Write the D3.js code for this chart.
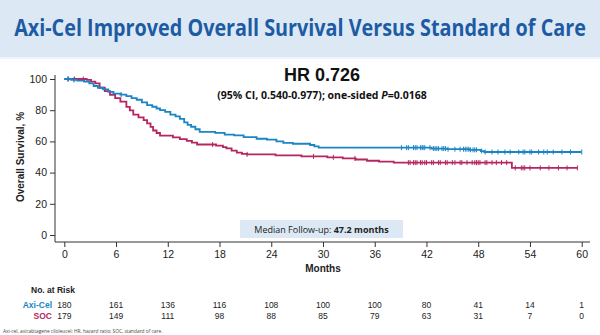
<!DOCTYPE html>
<html>
<head>
<meta charset="utf-8">
<script src="https://cdn.jsdelivr.net/npm/d3@7"></script>
<style>
  body { margin: 0; background: #fff; }
  svg { display: block; }
</style>
</head>
<body>
<div id="chart"></div>
<script>
// KM steps: [month, survival %]
const axiCelSteps = [
  [0, 100], [0.8, 99.4], [1.5, 98.9], [2.3, 98.3], [2.9, 97.2], [3.4, 95.5], [3.9, 94.4],
  [4.5, 93.3], [5.1, 91.7], [5.7, 90.6], [6.5, 90.0], [7.2, 89.0], [7.8, 87.8], [8.4, 86.7],
  [9.0, 85.0], [9.6, 83.3], [10.2, 82.2], [10.7, 81.1], [11.1, 80.0], [11.7, 78.9], [12.3, 77.2],
  [12.9, 76.1], [13.4, 74.4], [13.9, 72.2], [14.3, 70.6], [14.7, 69.4], [15.2, 67.8], [15.7, 66.1],
  [17.5, 65.5], [18.6, 64.4], [19.7, 63.9], [20.8, 62.8], [22.3, 61.7], [23.5, 61.1], [24.6, 60.0],
  [25.4, 59.0], [26.5, 58.5], [28.5, 57.7], [29.0, 56.8], [29.5, 56.0], [42.6, 55.4], [44.4, 55.0],
  [47.0, 54.6], [48.3, 53.8], [48.7, 53.2]
];
const axiCelEnd = 60;
const axiCelCensor = [0.4, 1.1, 6.6, 39.1, 39.7, 39.9, 40.5, 40.7, 40.9, 41.3, 41.5, 41.6, 41.8,
  42.4, 42.8, 43.0, 43.2, 43.4, 43.8, 44.0, 44.2, 44.5, 45.3, 45.9, 46.3, 46.5, 46.7, 46.9, 47.1,
  47.4, 47.6, 47.8, 48.4, 48.8, 49.6, 50.3, 51.1, 51.7, 52.7, 53.2, 53.4, 54.0, 54.2, 55.0, 55.6,
  56.0, 56.7, 57.7, 58.7, 60.0];

const socSteps = [
  [0, 100], [2.6, 99.4], [3.1, 98.3], [3.6, 97.2], [4.1, 94.4], [4.7, 92.2], [5.3, 89.9],
  [5.9, 87.7], [6.5, 85.5], [7.2, 82.1], [7.6, 79.9], [8.0, 77.1], [8.6, 75.4], [9.2, 73.7],
  [9.6, 71.5], [10.0, 69.3], [10.3, 67.0], [10.7, 65.4], [11.1, 63.7], [12.6, 62.6], [13.4, 61.5],
  [14.2, 60.3], [14.8, 59.2], [15.4, 58.0], [17.6, 57.3], [18.4, 56.3], [18.8, 55.5], [19.4, 54.1],
  [20.0, 52.8], [20.6, 52.0], [21.2, 51.7], [24.5, 51.0], [27.5, 50.4], [30.5, 49.8], [32.3, 49.1],
  [33.8, 48.4], [35.1, 47.6], [36.5, 47.0], [38.2, 46.4], [51.9, 43.0]
];
const socEnd = 59.5;
const socCensor = [0.5, 1.2, 2.2, 17.2, 21.2, 28.9, 31.2, 33.7, 39.9, 40.1, 40.5, 40.7, 40.9,
  41.3, 41.5, 41.8, 42.0, 42.6, 42.8, 43.4, 43.6, 44.2, 44.4, 45.0, 45.3, 45.9, 46.1, 46.7, 47.3,
  47.6, 47.8, 48.0, 48.2, 48.8, 49.0, 49.6, 50.1, 50.7, 51.3, 52.3, 53.0, 53.2, 53.4, 54.0, 55.2,
  56.2, 57.3, 58.3, 59.5];

const monthTicks = [0, 6, 12, 18, 24, 30, 36, 42, 48, 54, 60];
const survTicks = [0, 20, 40, 60, 80, 100];
const riskAxiCel = [180, 161, 136, 116, 108, 100, 100, 80, 41, 14, 1];
const riskSoc = [179, 149, 111, 98, 88, 85, 79, 63, 31, 7, 0];

const blue = "#1a85c3";
const magenta = "#b52660";
const axisColor = "#333";

const width = 600, height = 335;
const svg = d3.select("#chart").append("svg")
  .attr("width", width)
  .attr("height", height);

// Title band
svg.append("rect").attr("x", 0).attr("y", 0).attr("width", width).attr("height", 57)
  .attr("fill", "#dce9f4");
svg.append("rect").attr("x", 0).attr("y", 57).attr("width", width).attr("height", 2)
  .attr("fill", "#eef4fa");
const title = svg.append("text")
  .attr("x", 0).attr("y", 0)
  .attr("text-anchor", "middle")
  .attr("font-family", "'Liberation Sans Narrow', 'Open Sans', sans-serif")
  .attr("font-weight", 700)
  .attr("font-size", 24)
  .attr("fill", "#1d5ba4")
  .text("Axi-Cel Improved Overall Survival Versus Standard of Care");
// squeeze the title to fit the band width
const titleW = title.node().getComputedTextLength();
const sx = Math.min(1, 572 / titleW);
title.attr("transform", `translate(300,36) scale(${sx},1)`);

const x = d3.scaleLinear().domain([0, 60]).range([64.3, 581.7]);
const y = d3.scaleLinear().domain([0, 100]).range([235, 79]);
const axisX = 55, axisY = 242;

// Axes
const yAxis = svg.append("g")
  .attr("transform", `translate(${axisX},0)`)
  .call(d3.axisLeft(y).tickValues(survTicks).tickSize(5).tickPadding(3));
yAxis.select(".domain").remove();
const xAxis = svg.append("g")
  .attr("transform", `translate(0,${axisY})`)
  .call(d3.axisBottom(x).tickValues(monthTicks).tickSize(5).tickPadding(4));
xAxis.select(".domain").remove();
[yAxis, xAxis].forEach(g => {
  g.selectAll("line").attr("stroke", axisColor);
  g.selectAll("text")
    .attr("font-family", "Arial, 'Liberation Sans', sans-serif")
    .attr("font-size", 10.5)
    .attr("fill", "#222");
});
svg.append("line").attr("x1", axisX).attr("x2", axisX).attr("y1", 75).attr("y2", axisY)
  .attr("stroke", axisColor);
svg.append("line").attr("x1", axisX).attr("x2", 590).attr("y1", axisY).attr("y2", axisY)
  .attr("stroke", axisColor);

svg.append("text")
  .attr("transform", `translate(24,${(79 + 235) / 2}) rotate(-90)`)
  .attr("text-anchor", "middle")
  .attr("font-family", "Arial, 'Liberation Sans', sans-serif")
  .attr("font-weight", 700)
  .attr("font-size", 10)
  .attr("fill", "#222")
  .text("Overall Survival, %");

svg.append("text")
  .attr("x", (x(0) + x(60)) / 2).attr("y", 272)
  .attr("text-anchor", "middle")
  .attr("font-family", "Arial, 'Liberation Sans', sans-serif")
  .attr("font-weight", 700)
  .attr("font-size", 10)
  .attr("fill", "#222")
  .text("Months");

// Median follow-up box
svg.append("rect").attr("x", 240).attr("y", 220).attr("width", 163).attr("height", 18)
  .attr("fill", "#dce9f4");
const med = svg.append("text")
  .attr("x", 321.5).attr("y", 232.5)
  .attr("text-anchor", "middle")
  .attr("font-family", "'Open Sans', sans-serif")
  .attr("font-size", 9)
  .attr("fill", "#222");
med.append("tspan").text("Median Follow-up: ");
med.append("tspan").attr("font-weight", 700).text("47.2 months");

// HR text
svg.append("text")
  .attr("x", 322).attr("y", 81)
  .attr("text-anchor", "middle")
  .attr("font-family", "Arial, 'Liberation Sans', sans-serif")
  .attr("font-weight", 700)
  .attr("font-size", 18)
  .attr("fill", "#111")
  .text("HR 0.726");
const ci = svg.append("text")
  .attr("x", 322).attr("y", 99)
  .attr("text-anchor", "middle")
  .attr("font-family", "'Open Sans', sans-serif")
  .attr("font-weight", 700)
  .attr("font-size", 10.5)
  .attr("fill", "#111");
ci.append("tspan").text("(95% CI, 0.540-0.977); one-sided ");
ci.append("tspan").attr("font-style", "italic").text("P");
ci.append("tspan").text("=0.0168");

// KM curves
function stepValue(steps, t) {
  let v = steps[0][1];
  steps.forEach(s => { if (s[0] <= t) v = s[1]; });
  return v;
}
const line = d3.line().x(d => x(d[0])).y(d => y(d[1])).curve(d3.curveStepAfter);

function drawCurve(steps, end, censor, color) {
  const pts = steps.concat([[end, steps[steps.length - 1][1]]]);
  svg.append("path")
    .attr("d", line(pts))
    .attr("fill", "none")
    .attr("stroke", color)
    .attr("stroke-width", 1.8);
  svg.append("g").selectAll("line")
    .data(censor)
    .join("line")
    .attr("x1", d => x(d)).attr("x2", d => x(d))
    .attr("y1", d => y(stepValue(steps, d)) - 2.5)
    .attr("y2", d => y(stepValue(steps, d)) + 2.5)
    .attr("stroke", color)
    .attr("stroke-width", 1);
}
drawCurve(socSteps, socEnd, socCensor, magenta);
drawCurve(axiCelSteps, axiCelEnd, axiCelCensor, blue);

// Number at risk
const riskFont = "Arial, 'Liberation Sans', sans-serif";
svg.append("text")
  .attr("x", 31).attr("y", 293)
  .attr("font-family", riskFont).attr("font-weight", 700).attr("font-size", 8.5)
  .attr("fill", "#222").text("No. at Risk");
[["Axi-Cel", riskAxiCel, blue, 308], ["SOC", riskSoc, magenta, 319]].forEach(([name, vals, color, yy]) => {
  svg.append("text")
    .attr("x", 52).attr("y", yy).attr("text-anchor", "end")
    .attr("font-family", riskFont).attr("font-weight", 700).attr("font-size", 8.5)
    .attr("fill", color).text(name);
  svg.append("g").selectAll("text")
    .data(vals)
    .join("text")
    .attr("x", (d, i) => x(monthTicks[i]))
    .attr("y", yy)
    .attr("text-anchor", "middle")
    .attr("font-family", riskFont).attr("font-size", 8.5)
    .attr("fill", "#222")
    .text(d => d);
});

svg.append("text")
  .attr("x", 3).attr("y", 333)
  .attr("font-family", "'Open Sans', sans-serif")
  .attr("font-size", 4.8)
  .attr("fill", "#444")
  .text("Axi-cel, axicabtagene ciloleucel; HR, hazard ratio; SOC, standard of care.");
</script>
</body>
</html>
